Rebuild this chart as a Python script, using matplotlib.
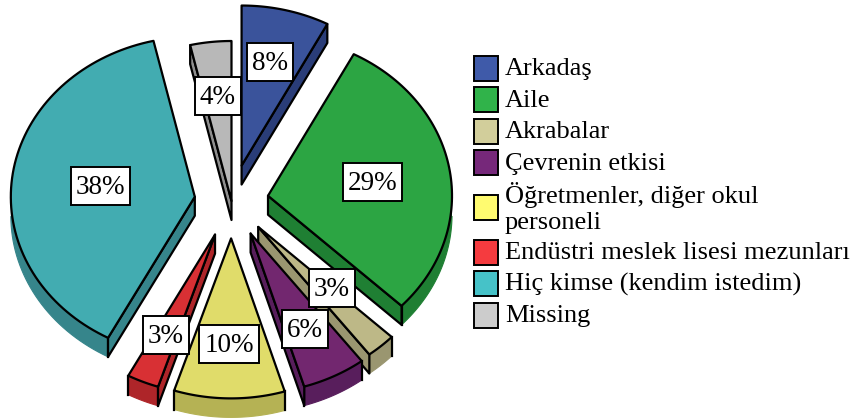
import numpy as np
import matplotlib
matplotlib.use('Agg')
import matplotlib.pyplot as plt
from matplotlib.patches import Polygon, Rectangle

plt.rcParams['font.family'] = ['Liberation Serif', 'DejaVu Serif']

categories = ['Arkadaş', 'Aile', 'Akrabalar', 'Çevrenin etkisi',
              'Öğretmenler, diğer okul\npersoneli', 'Endüstri meslek lisesi mezunları',
              'Hiç kimse (kendim istedim)', 'Missing']
shares = [7.7, 29.3, 2.6, 5.6, 9.7, 2.8, 38.5, 3.6]
pct_labels = ['8%', '29%', '3%', '6%', '10%', '3%', '38%', '4%']

explode = [42, 37, 40, 42, 43, 42, 37, 0]
top_colors = ['#3A539B', '#2CA543', '#BDB887', '#72276F', '#E0DC6A', '#D83034', '#42ACB1', '#B8B8B8']
side_colors = ['#2A3D78', '#1F7F33', '#9A9670', '#581E5C', '#B5B254', '#AE2529', '#36858B', '#8F8F8F']
legend_colors = ['#3F5AA9', '#30B34A', '#D2CE9B', '#76287A', '#FFFB70', '#F53B3F', '#46C2C8', '#CCCCCC']

label_xy = [(270.5, 62), (372.5, 182), (332, 288), (305, 329), (229, 344), (166, 335), (100.5, 186), (218, 96)]
legend_y = [68.5, 100, 131, 162.5, 207, 252, 283.5, 315]

cx, cy = 231.5, 201
a, b = 184, 160
depth = 19


def pt(x0, y0, ang):
    return x0 + a * np.sin(ang), y0 - b * np.cos(ang)


fig = plt.figure(figsize=(8.54, 4.19), dpi=100)
ax = fig.add_axes([0, 0, 1, 1])
ax.set_xlim(0, 854)
ax.set_ylim(419, 0)
ax.axis('off')

edges = np.cumsum([0] + shares) / sum(shares) * 2 * np.pi
mids = (edges[:-1] + edges[1:]) / 2
order = np.argsort(-np.cos(mids))

for z, i in enumerate(order):
    start, end = edges[i], edges[i + 1]
    x0 = cx + explode[i] * np.sin(mids[i])
    y0 = cy - explode[i] * np.cos(mids[i]) * b / a
    th = np.linspace(start, end, 80)
    ox, oy = pt(x0, y0, th)
    lw = 1.6
    # outer rim on the front half
    rim = th[np.cos(th) < 0]
    if len(rim) > 1:
        rx, ry = pt(x0, y0, rim)
        ax.fill(np.r_[rx, rx[::-1]], np.r_[ry, ry[::-1] + depth], fc=side_colors[i],
                ec='none', zorder=z * 3 + 1)
        ax.plot(rx, ry + depth, color=side_colors[i], lw=0.8, zorder=z * 3 + 1)
        for k in (0, -1):
            if abs(np.sin(rim[k])) > 0.05 and rim[k] in (start, end):
                ax.plot([rx[k], rx[k]], [ry[k], ry[k] + depth], color='black', lw=lw, zorder=z * 3 + 1)
    # cut faces
    if np.sin(end) > 0:
        ex, ey = pt(x0, y0, end)
        ax.add_patch(Polygon([(x0, y0), (ex, ey), (ex, ey + depth), (x0, y0 + depth)],
                             fc=side_colors[i], ec='black', lw=lw, joinstyle='round', zorder=z * 3 + 1))
    if np.sin(start) < 0:
        ex, ey = pt(x0, y0, start)
        ax.add_patch(Polygon([(x0, y0), (ex, ey), (ex, ey + depth), (x0, y0 + depth)],
                             fc=side_colors[i], ec='black', lw=lw, joinstyle='round', zorder=z * 3 + 1))
    # top face
    ax.add_patch(Polygon(np.c_[np.r_[x0, ox], np.r_[y0, oy]], fc=top_colors[i], ec='black',
                         lw=lw, joinstyle='round', zorder=z * 3 + 2))

renderer = fig.canvas.get_renderer()
for txt, (lx, ly) in zip(pct_labels, label_xy):
    t = ax.text(lx, ly + 1.5, txt, fontsize=19.5, ha='center', va='center', color='black', zorder=101)
    w = t.get_window_extent(renderer).width + 10
    ax.add_patch(Rectangle((lx - w / 2, ly - 19), w, 38, fc='white', ec='black', lw=1.4, zorder=100))

for name, col, ly in zip(categories, legend_colors, legend_y):
    ax.add_patch(Rectangle((474, ly - 12.5), 24, 25, fc=col, ec='black', lw=1.4, zorder=100))
    ax.text(505, ly + 1, name, fontsize=19, ha='left', va='center', color='black',
            linespacing=1.2, zorder=100)

fig.savefig('out.png', dpi=100)
